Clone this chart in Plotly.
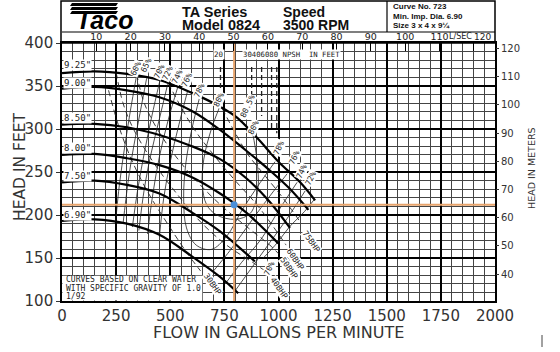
import plotly.graph_objects as go

# ---------------- data ----------------
imp_labels = ['9.25"', '9.00"', '8.50"', '8.00"', '7.50"', '6.90"']
imp_label_ft = [374, 354, 313, 278, 245, 200]
q_925 = [0, 150, 300, 450, 600, 730, 810, 900, 1000, 1100, 1169]
h_925 = [365, 367, 364, 357, 342, 326, 313, 290, 262, 238, 217]
q_900 = [0, 150, 300, 450, 600, 730, 850, 950, 1050, 1138]
h_900 = [347, 349, 345, 337, 321, 299, 275, 254, 231, 206]
q_850 = [0, 150, 300, 450, 600, 730, 850, 950, 1053]
h_850 = [305, 306, 302, 293, 280, 265, 243, 218, 185]
q_800 = [0, 150, 300, 450, 600, 730, 850, 999]
h_800 = [270, 271, 266, 258, 244, 225, 203, 167]
q_750 = [0, 150, 300, 450, 600, 730, 891]
h_750 = [238, 240, 235, 225, 203, 181, 146]
q_690 = [0, 150, 300, 450, 600, 730, 814]
h_690 = [193, 195, 190, 177, 152, 128, 109]
imp_q = [q_925, q_900, q_850, q_800, q_750, q_690]
imp_h = [h_925, h_900, h_850, h_800, h_750, h_690]

# efficiency iso-lines (gpm, ft)
eff_lines = [
    ([345, 315, 290, 265, 248], [363, 320, 280, 235, 193]),
    ([391, 360, 330, 305, 282], [359, 318, 278, 238, 190]),
    ([451, 415, 380, 350, 325], [355, 315, 272, 230, 186]),
    ([488, 450, 410, 380, 355], [352, 312, 270, 230, 182]),
    ([535, 490, 450, 420, 395], [349, 310, 268, 225, 178]),
    ([581, 540, 500, 470, 450], [345, 305, 262, 220, 175]),
    ([637, 600, 572, 562, 575, 620, 690, 760, 830, 900, 984],
     [338, 300, 260, 220, 185, 165, 160, 175, 205, 232, 262]),
    ([729, 690, 655, 648, 668, 715, 800, 870, 905, 900, 880],
     [326, 300, 265, 235, 212, 200, 195, 202, 230, 265, 296]),
    ([930, 995, 1050, 1120, 1165], [150, 168, 186, 204, 218]),
    ([800, 880, 960, 1040, 1123], [112, 140, 168, 196, 228]),
    ([760, 830, 920, 1000, 1086], [122, 145, 172, 205, 238]),
    ([700, 780, 880, 960, 1040], [135, 160, 195, 222, 248]),
]
eff_text = ['60%', '65%', '70%', '72%', '74%', '76%', '78%', '80%', '80.5%', '80%',
            '78%', '76%', '74%', '72%', '70%']
eff_text_q = [343, 389, 450, 487, 534, 580, 635, 727, 858, 885, 1005, 1074, 1107, 1148, 958]
eff_text_h = [370, 374, 367, 365, 361, 357, 345, 334, 326, 302, 278, 267, 251, 243, 138]

# BHP lines
bhp_names = ['30BHP', '40BHP', '50BHP', '60BHP', '75BHP']
bhp_q = [[215, 260, 320, 400, 500, 580, 640],
         [250, 282, 330, 420, 520, 640, 760, 880, 950],
         [345, 380, 440, 520, 620, 740, 860, 960, 1000],
         [490, 540, 610, 700, 800, 900, 980, 1035],
         [740, 790, 860, 940, 1020, 1100]]
bhp_h = [[345, 305, 265, 225, 185, 155, 135],
         [366, 330, 300, 262, 228, 192, 165, 145, 133],
         [364, 330, 300, 270, 240, 210, 185, 165, 155],
         [354, 330, 300, 270, 240, 212, 185, 165],
         [324, 300, 270, 245, 220, 192]]
bhp_lab_q = [695, 1004, 1050, 1077, 1150]
bhp_lab_h = [119, 115, 138, 148, 169]

# NPSH
npsh_vals = [20, 30, 40, 60, 80]
npsh_q = [732, 876, 922, 968, 992]
npsh_bottom = [345, 328, 315, 300, 295]

# operating point
op_flow = 795
op_head = 212

# axes ticks
x_ticks = [0, 250, 500, 750, 1000, 1250, 1500, 1750, 2000]
y_ticks = [100, 150, 200, 250, 300, 350, 400]
m_ticks = [40, 50, 60, 70, 80, 90, 100, 110, 120]
ls_ticks = [10, 20, 30, 40, 50, 60, 70, 80, 90, 100, 110, 120]
ls_text = ['10', '20', '30', '40', '50', '60', '70', '80', '90', '100', '110', '']

GPM_PER_LS = 15.850
FT_PER_M = 3.2808

fig = go.Figure()

for q, h in eff_lines:
    fig.add_trace(go.Scatter(x=q, y=h, mode='lines', line=dict(color='#222', width=0.8, shape='spline'),
                             hoverinfo='skip', showlegend=False))
for q, h in zip(bhp_q, bhp_h):
    fig.add_trace(go.Scatter(x=q, y=h, mode='lines', line=dict(color='#222', width=0.9, dash='6px,4px', shape='spline'),
                             hoverinfo='skip', showlegend=False))
for q, hb in zip(npsh_q, npsh_bottom):
    fig.add_trace(go.Scatter(x=[q, q], y=[372, hb], mode='lines', line=dict(color='#222', width=1.3, dash='5px,3px'),
                             hoverinfo='skip', showlegend=False))
for q, h in zip(imp_q, imp_h):
    fig.add_trace(go.Scatter(x=q, y=h, mode='lines', line=dict(color='black', width=2.2, shape='spline'),
                             hoverinfo='skip', showlegend=False))
fig.add_trace(go.Scatter(x=[op_flow, op_flow], y=[100, 400], mode='lines', line=dict(color='#E8A46C', width=2),
                         hoverinfo='skip', showlegend=False))
fig.add_trace(go.Scatter(x=[0, 2000], y=[op_head, op_head], mode='lines', line=dict(color='#E8A46C', width=2),
                         hoverinfo='skip', showlegend=False))
fig.add_trace(go.Scatter(x=[op_flow], y=[op_head], mode='markers', marker=dict(color='#4A8FD8', size=7),
                         hoverinfo='skip', showlegend=False))
fig.add_trace(go.Scatter(x=[0], y=[m_ticks[0]], xaxis='x2', yaxis='y2', mode='markers',
                         marker=dict(opacity=0), hoverinfo='skip', showlegend=False))


def px(x):
    return (x - 62) / 433


def py(y):
    return (301 - y) / 258


ann = []
mono = 'DejaVu Sans Mono'
for t, h in zip(imp_labels, imp_label_ft):
    ann.append(dict(x=4, y=h, xref='x', yref='y', text=t, showarrow=False, xanchor='left', yanchor='middle',
                    font=dict(family=mono, size=9, color='#222'), bgcolor='white', borderpad=0))
for t, q, h in zip(eff_text, eff_text_q, eff_text_h):
    ann.append(dict(x=q, y=h, xref='x', yref='y', text=t, showarrow=False, textangle=-65,
                    font=dict(family=mono, size=8, color='#222'), bgcolor='white', borderpad=0))
for t, q, h in zip(bhp_names, bhp_lab_q, bhp_lab_h):
    ann.append(dict(x=q, y=h, xref='x', yref='y', text=t, showarrow=False, textangle=55,
                    font=dict(family=mono, size=8, color='#222'), bgcolor='white', borderpad=0))
ann.append(dict(x=px(219), y=py(55), xref='paper', yref='paper', text=str(npsh_vals[0]), showarrow=False,
                xanchor='center', yanchor='middle',
                font=dict(family=mono, size=7.5, color='#222'), bgcolor='white', borderpad=0))
ann.append(dict(x=px(242), y=py(55), xref='paper', yref='paper', xanchor='left', yanchor='middle',
                text=''.join(str(v) for v in npsh_vals[1:]) + ' NPSH  IN FEET', showarrow=False,
                font=dict(family=mono, size=7.3, color='#222'), bgcolor='white', borderpad=0))
for i, t in enumerate(['CURVES BASED ON CLEAR WATER', 'WITH SPECIFIC GRAVITY OF 1.0', '1/92']):
    ann.append(dict(x=px(64), y=py([279, 288, 296.5][i]), xref='paper', yref='paper', xanchor='left',
                    yanchor='middle', text=t, showarrow=False,
                    font=dict(family=mono, size=8, color='#222')))
ann.append(dict(x=px(447), y=py(37), xref='paper', yref='paper', xanchor='left', yanchor='middle',
                text='L/SEC', showarrow=False, font=dict(family='DejaVu Sans', size=8, color='#222')))
ann.append(dict(x=px(482), y=py(37), xref='paper', yref='paper', xanchor='center', yanchor='middle',
                text=str(ls_ticks[-1]), showarrow=False, font=dict(family='DejaVu Sans', size=9, color='#222')))

# axis titles
axcol = '#333'
ann.append(dict(x=px(20), y=py(167), xref='paper', yref='paper', xanchor='center', yanchor='middle',
                textangle=-90, text='HEAD IN FEET',
                showarrow=False, font=dict(family='DejaVu Sans', size=15.5, color=axcol)))
ann.append(dict(x=px(278), y=py(332), xref='paper', yref='paper', xanchor='center', yanchor='middle',
                text='FLOW IN GALLONS PER MINUTE', showarrow=False,
                font=dict(family='DejaVu Sans', size=16, color=axcol)))
ann.append(dict(x=px(531), y=py(168), xref='paper', yref='paper', xanchor='center', yanchor='middle',
                textangle=-90, text='HEAD IN METERS', showarrow=False,
                font=dict(family='DejaVu Sans', size=9.5, color=axcol)))

hdr = dict(family='Liberation Sans', color='#111')
ann += [
    dict(x=px(180), y=py(12), xref='paper', yref='paper', xanchor='left', yanchor='middle', text='<b>TA Series</b>',
         showarrow=False, font=dict(size=14.5, **hdr)),
    dict(x=px(180), y=py(25), xref='paper', yref='paper', xanchor='left', yanchor='middle', text='<b>Model 0824</b>',
         showarrow=False, font=dict(size=14.5, **hdr)),
    dict(x=px(281), y=py(12), xref='paper', yref='paper', xanchor='left', yanchor='middle', text='<b>Speed</b>',
         showarrow=False, font=dict(size=14, **hdr)),
    dict(x=px(281), y=py(25), xref='paper', yref='paper', xanchor='left', yanchor='middle', text='<b>3500 RPM</b>',
         showarrow=False, font=dict(size=14, **hdr)),
    dict(x=px(391), y=py(7), xref='paper', yref='paper', xanchor='left', yanchor='middle',
         text='<b>Curve No. 723</b>', showarrow=False, font=dict(size=8, **hdr)),
    dict(x=px(391), y=py(16), xref='paper', yref='paper', xanchor='left', yanchor='middle',
         text='<b>Min. Imp. Dia. 6.90</b>', showarrow=False, font=dict(size=8, **hdr)),
    dict(x=px(391), y=py(25), xref='paper', yref='paper', xanchor='left', yanchor='middle',
         text='<b>Size 3 x 4 x 9¼</b>', showarrow=False, font=dict(size=8, **hdr)),
    dict(x=px(104), y=py(20), xref='paper', yref='paper', xanchor='center', yanchor='middle',
         text='<b><i>Taco</i></b>', showarrow=False,
         font=dict(size=25, family='Liberation Sans', color='black')),
]

shapes = [
    dict(type='rect', xref='paper', yref='paper', x0=px(61), x1=1, y0=1, y1=py(1), line=dict(color='black', width=1.5)),
    dict(type='line', xref='paper', yref='paper', x0=0, x1=1, y0=py(32), y1=py(32), line=dict(color='black', width=1.2)),
    dict(type='line', xref='paper', yref='paper', x0=px(387), x1=px(387), y0=py(1), y1=py(32),
         line=dict(color='black', width=1.2)),
    dict(type='rect', xref='x', yref='y', x0=2, x1=648, y0=100.5, y1=129.5, fillcolor='white', line=dict(width=0),
         layer='above'),
    dict(type='line', xref='paper', yref='paper', x0=px(542), x1=px(542), y0=py(335), y1=py(347),
         line=dict(color='#444', width=1)),
]
for yy in [4.5, 8.5, 12.5]:
    shapes.append(dict(type='path', xref='paper', yref='paper',
                       path=f'M {px(70)} {py(yy+1.4)} L {px(116)} {py(yy+1.4)} L {px(118)} {py(yy-1.4)} L {px(72)} {py(yy-1.4)} Z',
                       fillcolor='black', line=dict(width=0)))

axfont = dict(family='DejaVu Sans', size=15, color='#333')
fig.update_layout(
    width=560, height=352, margin=dict(l=62, r=65, t=43, b=51, autoexpand=False),
    paper_bgcolor='white', plot_bgcolor='white',
    xaxis=dict(range=[0, 2000], tickvals=x_ticks, showgrid=True, gridcolor='black', gridwidth=1.8,
               minor=dict(dtick=50, showgrid=True, gridcolor='#444', gridwidth=0.9),
               showline=True, linecolor='black', linewidth=1.6, mirror=True, ticks='', zeroline=False,
               automargin=False, tickfont=axfont),
    yaxis=dict(range=[100, 400], tickvals=y_ticks, showgrid=True, gridcolor='black', gridwidth=1.8,
               minor=dict(dtick=10, showgrid=True, gridcolor='#444', gridwidth=0.9),
               showline=True, linecolor='black', linewidth=1.6, mirror=True, ticks='outside', ticklen=4,
               tickcolor='#333', zeroline=False, automargin=False, tickfont=axfont),
    yaxis2=dict(range=[100 / FT_PER_M, 400 / FT_PER_M], tickvals=m_ticks, overlaying='y', side='right',
                showgrid=False, zeroline=False, ticks='outside', ticklen=3, tickcolor='#333', automargin=False,
                tickfont=dict(family='DejaVu Sans', size=10, color='#333')),
    xaxis2=dict(range=[0, 2000 / GPM_PER_LS], tickvals=ls_ticks, ticktext=ls_text, overlaying='x', side='top',
                showgrid=False, zeroline=False, ticks='inside', ticklen=8, tickcolor='black', automargin=False,
                tickfont=dict(family='DejaVu Sans', size=9.5, color='#222')),
    annotations=ann, shapes=shapes,
)

fig.write_html('out.html')
